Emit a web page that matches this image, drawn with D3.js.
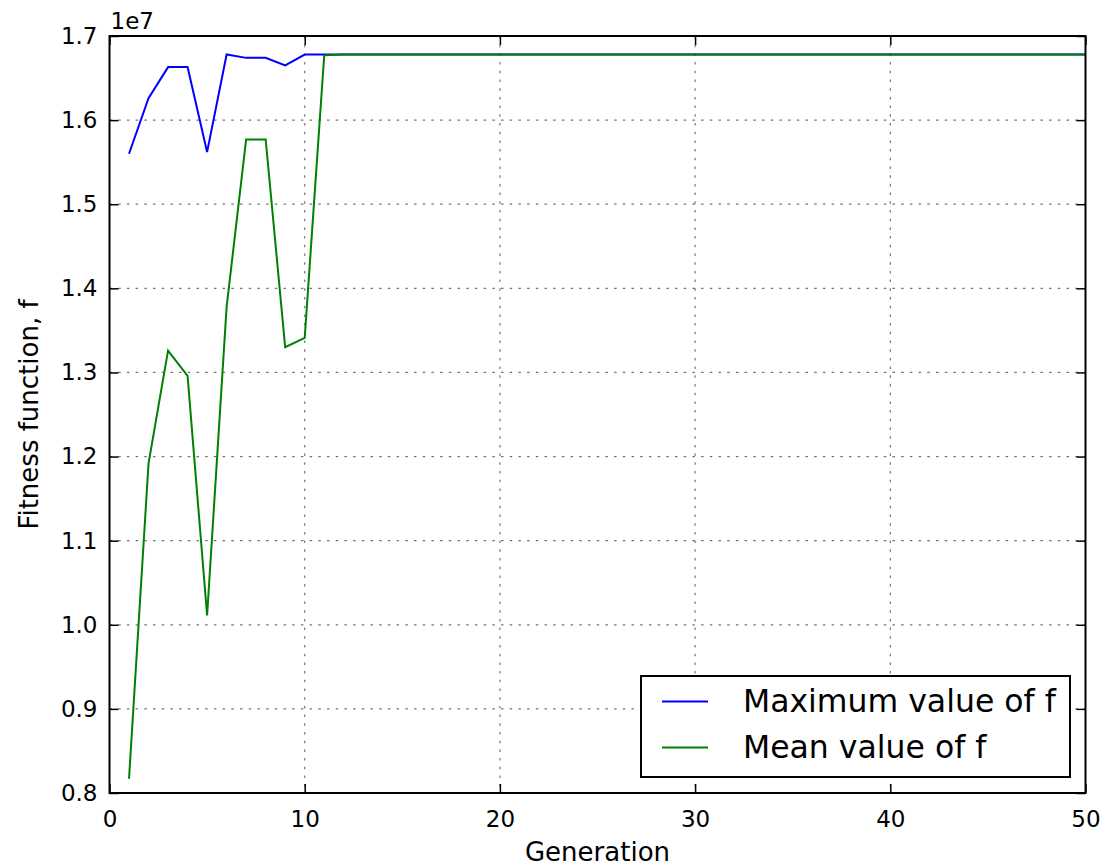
<!DOCTYPE html>
<html>
<head>
<meta charset="utf-8">
<script src="https://cdn.jsdelivr.net/npm/d3@7"></script>
<style>
  html, body { margin: 0; padding: 0; background: #fff; }
  svg { display: block; font-family: "DejaVu Sans", sans-serif; }
</style>
</head>
<body>
<svg id="chart" width="1112" height="867"></svg>
<script>
// generations on the x axis
const generations = [1, 2, 3, 4, 5, 6, 7, 8, 9, 10,
  11, 12, 13, 14, 15, 16, 17, 18, 19, 20,
  21, 22, 23, 24, 25, 26, 27, 28, 29, 30,
  31, 32, 33, 34, 35, 36, 37, 38, 39, 40,
  41, 42, 43, 44, 45, 46, 47, 48, 49, 50];

// maximum value of f per generation
const maxValues = [15600000, 16260000, 16630000, 16630000, 15620000, 16780000, 16740000, 16740000, 16650000, 16780000,
  16780000, 16780000, 16780000, 16780000, 16780000, 16780000, 16780000, 16780000, 16780000, 16780000,
  16780000, 16780000, 16780000, 16780000, 16780000, 16780000, 16780000, 16780000, 16780000, 16780000,
  16780000, 16780000, 16780000, 16780000, 16780000, 16780000, 16780000, 16780000, 16780000, 16780000,
  16780000, 16780000, 16780000, 16780000, 16780000, 16780000, 16780000, 16780000, 16780000, 16780000];

// mean value of f per generation
const meanValues = [8170000, 11920000, 13260000, 12960000, 10110000, 13780000, 15770000, 15770000, 13300000, 13410000,
  16770000, 16780000, 16780000, 16780000, 16780000, 16780000, 16780000, 16780000, 16780000, 16780000,
  16780000, 16780000, 16780000, 16780000, 16780000, 16780000, 16780000, 16780000, 16780000, 16780000,
  16780000, 16780000, 16780000, 16780000, 16780000, 16780000, 16780000, 16780000, 16780000, 16780000,
  16780000, 16780000, 16780000, 16780000, 16780000, 16780000, 16780000, 16780000, 16780000, 16780000];

const xTicks = [0, 10, 20, 30, 40, 50];
const yTicks = [8e6, 9e6, 10e6, 11e6, 12e6, 13e6, 14e6, 15e6, 16e6, 17e6];
const seriesNames = ["Maximum value of f", "Mean value of f"];
const seriesColors = ["#0000ff", "#008000"];

var margin = { left: 109.5, right: 26.5, top: 36, bottom: 74 };
var width = 1112, height = 867;

var svg = d3.select("#chart");

var x = d3.scaleLinear().domain([0, 50]).range([margin.left, width - margin.right]);
var y = d3.scaleLinear().domain([8e6, 17e6]).range([height - margin.bottom, margin.top]);

var fmt = function (d) { return (d / 1e7).toFixed(1); };

// grid
var grid = svg.append("g").attr("class", "grid")
  .attr("stroke", "#000").attr("stroke-width", 1.2).attr("stroke-dasharray", "2.5,6.2").attr("stroke-opacity", 0.55);
grid.selectAll("line.gx").data(xTicks.slice(1, -1)).enter().append("line")
  .attr("x1", x).attr("x2", x).attr("y1", y(17e6)).attr("y2", y(8e6));
grid.selectAll("line.gy").data(yTicks.slice(1, -1)).enter().append("line")
  .attr("y1", y).attr("y2", y).attr("x1", x(0)).attr("x2", x(50));

// lines
var line = d3.line()
  .x(function (d) { return x(d[0]); })
  .y(function (d) { return y(d[1]); });

[maxValues, meanValues].forEach(function (vals, i) {
  svg.append("path")
    .datum(generations.map(function (g, j) { return [g, vals[j]]; }))
    .attr("fill", "none")
    .attr("stroke", seriesColors[i])
    .attr("stroke-width", 2)
    .attr("stroke-linejoin", "miter")
    .attr("d", line);
});

// axes (classic matplotlib: ticks inside, on all four sides)
var tickLen = 9;
function styleAxis(g) {
  g.select(".domain").remove();
  g.selectAll(".tick line").attr("stroke", "#000").attr("stroke-width", 1.5);
  g.selectAll(".tick text").attr("fill", "#000").style("font-size", "23px").style("font-family", "DejaVu Sans");
}

svg.append("g")
  .attr("transform", "translate(0," + y(8e6) + ")")
  .call(d3.axisBottom(x).tickValues(xTicks).tickSize(-tickLen).tickPadding(18))
  .call(styleAxis);

svg.append("g")
  .attr("transform", "translate(0," + y(17e6) + ")")
  .call(d3.axisTop(x).tickValues(xTicks).tickSize(-tickLen).tickFormat(""))
  .call(styleAxis);

svg.append("g")
  .attr("transform", "translate(" + x(0) + ",0)")
  .call(d3.axisLeft(y).tickValues(yTicks).tickSize(-tickLen).tickPadding(12).tickFormat(fmt))
  .call(styleAxis);

svg.append("g")
  .attr("transform", "translate(" + x(50) + ",0)")
  .call(d3.axisRight(y).tickValues(yTicks).tickSize(-tickLen).tickFormat(""))
  .call(styleAxis);

// frame
svg.append("rect")
  .attr("x", x(0)).attr("y", y(17e6))
  .attr("width", x(50) - x(0)).attr("height", y(8e6) - y(17e6))
  .attr("fill", "none").attr("stroke", "#000").attr("stroke-width", 2);

// offset text
svg.append("text").attr("x", x(0) + 1).attr("y", 28.5)
  .style("font-size", "23px").text("1e7");

// axis labels
svg.append("text").attr("x", (x(0) + x(50)) / 2).attr("y", 861)
  .attr("text-anchor", "middle").style("font-size", "26px").text("Generation");

svg.append("text")
  .attr("transform", "translate(38," + (y(8e6) + y(17e6)) / 2 + ") rotate(-90)")
  .attr("text-anchor", "middle").style("font-size", "26px").text("Fitness function, f");

// legend
var lg = svg.append("g");
lg.append("rect").attr("x", 641).attr("y", 676).attr("width", 429).attr("height", 101)
  .attr("fill", "#fff").attr("stroke", "#000").attr("stroke-width", 2);
seriesNames.forEach(function (name, i) {
  var yy = 701.5 + i * 46;
  lg.append("line").attr("x1", 662).attr("x2", 708).attr("y1", yy).attr("y2", yy)
    .attr("stroke", seriesColors[i]).attr("stroke-width", 2);
  lg.append("text").attr("x", 743).attr("y", yy + 10.5)
    .style("font-size", "31.5px").text(name);
});
</script>
</body>
</html>
